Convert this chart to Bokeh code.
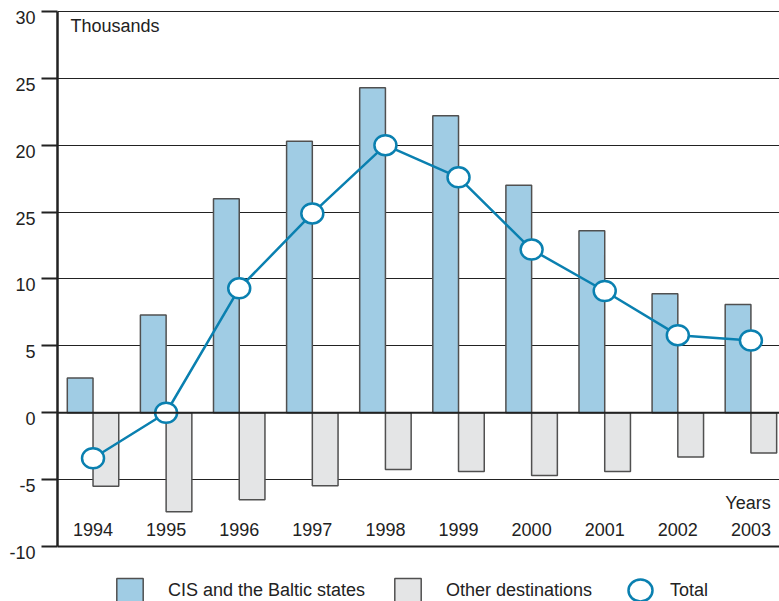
from bokeh.plotting import figure
from bokeh.models import (ColumnDataSource, Range1d, FixedTicker, Span, Legend,
                          LegendItem, LinearAxis)
from bokeh.core.properties import value
from bokeh.embed import file_html
from bokeh.resources import INLINE

years = ["1994", "1995", "1996", "1997", "1998", "1999", "2000", "2001", "2002", "2003"]
cis = [2.6, 7.3, 16.0, 20.3, 24.3, 22.2, 17.0, 13.6, 8.9, 8.1]
other = [-5.5, -7.4, -6.5, -5.45, -4.25, -4.4, -4.7, -4.4, -3.3, -3.0]
total = [-3.4, 0.0, 9.3, 14.9, 20.0, 17.6, 12.2, 9.1, 5.8, 5.4]
y_ticks = [-10, -5, 0, 5, 10, 15, 20, 25, 30]
y_tick_labels = {-10: "-10", -5: "-5", 0: "0", 5: "5", 10: "10", 15: "25",
                 20: "20", 25: "25", 30: "30"}

FONT = "Liberation Sans"
FS = "18px"
INK = "#222222"
BLUE = "#0a80b0"
CIS_FILL = "#a0cce4"
OTH_FILL = "#e4e5e6"
EDGE = "#505050"

bw = 0.352
idx = list(range(len(years)))
src = ColumnDataSource(dict(
    x=idx,
    xc=[i - bw / 2 for i in idx],
    xo=[i + bw / 2 for i in idx],
    cis=cis, other=other, total=total, years=years,
    ylab=[-8.73] * len(years),
))

Y0, Y1 = -14.11, 30.07
p = figure(width=779, height=601, x_range=Range1d(-0.486, 9.391),
           y_range=Range1d(Y0, Y1), output_backend="svg",
           toolbar_location=None, min_border_left=57, min_border_top=10,
           min_border_right=0, min_border_bottom=0)
p.outline_line_color = None
p.background_fill_color = "white"
p.border_fill_color = "white"
p.xaxis.visible = False

# grid
p.xgrid.visible = False
p.ygrid.ticker = FixedTicker(ticks=y_ticks)
p.ygrid.grid_line_color = INK
p.ygrid.grid_line_width = 1.2

# main y axis: line and ticks only (labels come from the axis below)
ya = p.yaxis[0]
ya.ticker = FixedTicker(ticks=y_ticks)
ya.bounds = (-10, 30)
ya.axis_line_color = INK
ya.axis_line_width = 2.5
ya.major_tick_line_color = INK
ya.major_tick_line_width = 2
ya.major_tick_out = 16
ya.major_tick_in = 0
ya.minor_tick_line_color = None
ya.major_label_standoff = 0
ya.major_label_overrides = {t: "" for t in y_ticks}

# tick labels sit a little below their ticks, as in the original
shift = 0.45
p.extra_y_ranges = {"lab": Range1d(Y0 + shift, Y1 + shift)}
la = LinearAxis(y_range_name="lab", ticker=FixedTicker(ticks=y_ticks),
                major_label_overrides=y_tick_labels, axis_line_color=None,
                major_tick_line_color=None, minor_tick_line_color=None,
                major_tick_out=0, major_tick_in=0, major_label_standoff=6,
                major_label_text_font=FONT, major_label_text_font_size=FS,
                major_label_text_color=INK)
p.add_layout(la, "left")

p.add_layout(Span(location=0, dimension="width", line_color=INK, line_width=2))
p.add_layout(Span(location=-10, dimension="width", line_color=INK, line_width=2.2))

r_cis = p.vbar(x="xc", width=bw, top="cis", bottom=0, source=src,
               fill_color=CIS_FILL, line_color=EDGE, line_width=1.5)
r_oth = p.vbar(x="xo", width=bw, top=0, bottom="other", source=src,
               fill_color=OTH_FILL, line_color=EDGE, line_width=1.5)
p.line(x="x", y="total", source=src, line_color=BLUE, line_width=2.5)
r_tot = p.ellipse(x="x", y="total", width=22, height=20, width_units="screen",
                  height_units="screen", source=src, fill_color="white",
                  line_color=BLUE, line_width=2.5)

p.text(x="x", y="ylab", text="years", source=src, text_font=value(FONT),
       text_font_size=FS, text_color=INK, text_align="center",
       text_baseline="middle")
p.text(x=[9.27], y=[-6.78], text=["Years"], text_font=value(FONT),
       text_font_size=FS, text_color=INK, text_align="right",
       text_baseline="middle")
p.text(x=[-0.308], y=[28.88], text=["Thousands"], text_font=value(FONT),
       text_font_size=FS, text_color=INK, text_align="left",
       text_baseline="middle")


def add_leg(label, r, x, standoff, gw, gh):
    leg = Legend(items=[LegendItem(label=label, renderers=[r])],
                 location=(x, -4), orientation="horizontal",
                 glyph_width=gw, glyph_height=gh, label_standoff=standoff,
                 padding=0, margin=0, spacing=0, border_line_color=None,
                 background_fill_alpha=0, label_text_font=FONT,
                 label_text_font_size=FS, label_text_color=INK)
    p.add_layout(leg)


add_leg("CIS and the Baltic states", r_cis, 56, 22, 33, 30)
add_leg("Other destinations", r_oth, 334, 22, 33, 30)
add_leg("Total", r_tot, 568, 15, 30, 30)

open("out.html", "w").write(file_html(p, INLINE))
